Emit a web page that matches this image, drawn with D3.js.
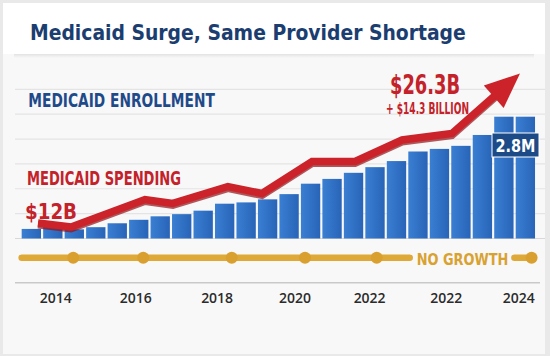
<!DOCTYPE html>
<html><head><meta charset="utf-8">
<script src="https://cdn.jsdelivr.net/npm/d3@7"></script>
<style>html,body{margin:0;padding:0;background:#ececec;} svg{display:block;}</style>
</head><body>
<svg id="c" width="550" height="356"></svg>
<script>
// ---- data ----
const enrollment = [0.22,0.27,0.21,0.26,0.35,0.43,0.51,0.56,0.64,0.80,0.83,0.90,1.02,1.26,1.37,1.51,1.64,1.78,2.00,2.06,2.13,2.38,2.80,2.80]; // millions
const spendingPeriod = [0.31,1.85,5.29,6.59,9.15,10.74,13.07,15.07,17.26,19.58,22.75];
const spendingValue = [12.0,11.62,14.25,13.87,15.49,14.82,17.88,17.88,19.94,20.56,26.3]; // $B
const providerPeriod = [1.95,5.21,9.33,12.74,16.08,23.29];
const providerValue = [1,1,1,1,1,1];
const yearLabels = ["2014","2016","2018","2020","2022","2022","2024"];
const yearPeriod = [1.14,4.86,8.65,12.28,15.75,19.32,22.69];
const gridLevels = [0,1,2,3,4,5,6];

const svg = d3.select("#c");
const FONT_C = "'Liberation Sans Narrow','DejaVu Sans Condensed','Arial Narrow',sans-serif";
const FONT_N = "'Open Sans','Liberation Sans',sans-serif";

// ---- background / card ----
svg.append("rect").attr("width",550).attr("height",356).attr("fill","#e9e9e9");
svg.append("rect").attr("x",3).attr("y",3).attr("width",542).attr("height",351).attr("fill","#f8f8f8");
const defs = svg.append("defs");
const sh = defs.append("linearGradient").attr("id","sh").attr("x1",0).attr("y1",0).attr("x2",0).attr("y2",1);
sh.append("stop").attr("offset","0").attr("stop-color","#e3e3e3");
sh.append("stop").attr("offset","1").attr("stop-color","#f8f8f8");
svg.append("rect").attr("x",3).attr("y",3).attr("width",542).attr("height",51).attr("fill","#ffffff");
svg.append("rect").attr("x",14).attr("y",54).attr("width",520).attr("height",4).attr("fill","url(#sh)");

const bg = defs.append("linearGradient").attr("id","barg").attr("x1",0).attr("y1",0).attr("x2",1).attr("y2",0);
bg.append("stop").attr("offset","0").attr("stop-color","#3a7fd2");
bg.append("stop").attr("offset","1").attr("stop-color","#2864b8");

// ---- scales ----
const x = d3.scaleBand().domain(d3.range(enrollment.length)).range([20.6,536.1]).paddingInner(0.1).paddingOuter(0.05);
const bw = x.bandwidth();
const xl = d3.scaleLinear().domain([0, enrollment.length-1]).range([x(0)+bw/2, x(enrollment.length-1)+bw/2]);
const yE = d3.scaleLinear().domain([0,2.8]).range([238.5,116.7]);
const yS = d3.scaleLinear().domain([12,26.3]).range([223,73.5]);
const yP = d3.scaleLinear().domain([0,1]).range([282.5,257.7]);
const yG = d3.scaleLinear().domain([0,6]).range([238.5,89.3]);

// ---- grid ----
svg.append("g").selectAll("line").data(gridLevels).join("line")
  .attr("x1",15).attr("x2",545).attr("y1",d=>yG(d)).attr("y2",d=>yG(d))
  .attr("stroke",d=>d===0?"#d8d8d8":"#e4e4e4").attr("stroke-width",1.2);

// ---- text helper ----
function txt(xp, yp, s, size, color, weight, width, family, anchor){
  const t = svg.append("text").attr("x",xp).attr("y",yp).text(s)
    .attr("font-family",family||FONT_C).attr("font-size",size).attr("font-weight",weight||"bold")
    .attr("fill",color).attr("text-anchor",anchor||"start");
  if(width){ t.attr("textLength",width).attr("lengthAdjust","spacingAndGlyphs"); }
  return t;
}

// ---- title (font size fitted to the reference width) ----
const title = txt(30,40,"Medicaid Surge, Same Provider Shortage",25,"#1b3d6f","bold",null);
const natW = title.node().getComputedTextLength();
title.attr("font-size", Math.min(28, 25*436/natW));

txt(28.3,106.7,"MEDICAID ENROLLMENT",18.6,"#1f4a8a","bold",186.5);
txt(27,185,"MEDICAID SPENDING",18.6,"#c4222a","bold",154);

// ---- bars ----
svg.append("g").selectAll("rect").data(enrollment).join("rect")
  .attr("x",(d,i)=>x(i)).attr("width",bw)
  .attr("y",d=>yE(d)).attr("height",d=>yE(0)-yE(d))
  .attr("fill","url(#barg)");

// ---- spending line with arrow ----
const pts = spendingPeriod.map((p,i)=>[xl(p), yS(spendingValue[i])]);
const tip = pts[pts.length-1], prev = pts[pts.length-2];
const dx = tip[0]-prev[0], dy = tip[1]-prev[1], L = Math.hypot(dx,dy);
const ux = dx/L, uy = dy/L, headLen = 35, halfW = 15;
const base = [tip[0]-ux*headLen, tip[1]-uy*headLen];
const shaft = pts.slice(0,-1).concat([[base[0]+ux*2, base[1]+uy*2]]);
const line = d3.line();
svg.append("path").attr("d",line(shaft.map(p=>[p[0],p[1]+1.8]))).attr("fill","none")
  .attr("stroke","#8f1419").attr("stroke-width",7.5).attr("stroke-linejoin","miter").attr("opacity",0.7);
svg.append("path").attr("d",line(shaft)).attr("fill","none")
  .attr("stroke","#cc2229").attr("stroke-width",7.5).attr("stroke-linejoin","miter");
svg.append("path").attr("d",line([tip,[base[0]-uy*halfW, base[1]+ux*halfW],[base[0]+uy*halfW, base[1]-ux*halfW]])+"Z")
  .attr("fill","#cc2229");

txt(25,219,"$12B",21.5,"#c4222a","bold",52);
txt(390,94.3,"$26.3B",27,"#c4222a","bold",70);
txt(386,114,"+ $14.3 BILLION",15.5,"#c4222a","bold",83);

// ---- 2.8M callout ----
svg.append("rect").attr("x",492).attr("y",133).attr("width",47).attr("height",24)
  .attr("fill","#1c4b88").attr("stroke","#ffffff").attr("stroke-width",1);
txt(515.5,152.3,"2.8M",18.5,"#ffffff","bold",40,null,"middle");

// ---- provider (no growth) line ----
const gold = "#dfa937";
const ngText = txt(416.7,265,"NO GROWTH",16.3,"#d8a232","bold",91.7);
const ngBox = ngText.node().getBBox();
const py = yP(providerValue[0]);
svg.append("line").attr("x1",x(0)).attr("x2",ngBox.x-7).attr("y1",py).attr("y2",py)
  .attr("stroke",gold).attr("stroke-width",6.5).attr("stroke-linecap","round");
svg.append("line").attr("x1",ngBox.x+ngBox.width+6).attr("x2",xl(providerPeriod[providerPeriod.length-1])).attr("y1",py).attr("y2",py)
  .attr("stroke",gold).attr("stroke-width",6.5).attr("stroke-linecap","round");
svg.append("g").selectAll("circle").data(providerPeriod).join("circle")
  .attr("cx",d=>xl(d)).attr("cy",(d,i)=>yP(providerValue[i])).attr("r",6)
  .attr("fill","#d9a030");

// ---- x axis ----
svg.append("line").attr("x1",15).attr("x2",540).attr("y1",282.7).attr("y2",282.7)
  .attr("stroke","#c9c9c9").attr("stroke-width",1.5);
svg.append("g").selectAll("text").data(yearLabels).join("text")
  .attr("x",(d,i)=>xl(yearPeriod[i])).attr("y",302.7).attr("text-anchor","middle")
  .attr("font-family",FONT_N).attr("font-size",15).attr("font-weight",600).attr("fill","#2b2b2b")
  .attr("textLength",32).attr("lengthAdjust","spacingAndGlyphs")
  .text(d=>d);
</script>
</body></html>
